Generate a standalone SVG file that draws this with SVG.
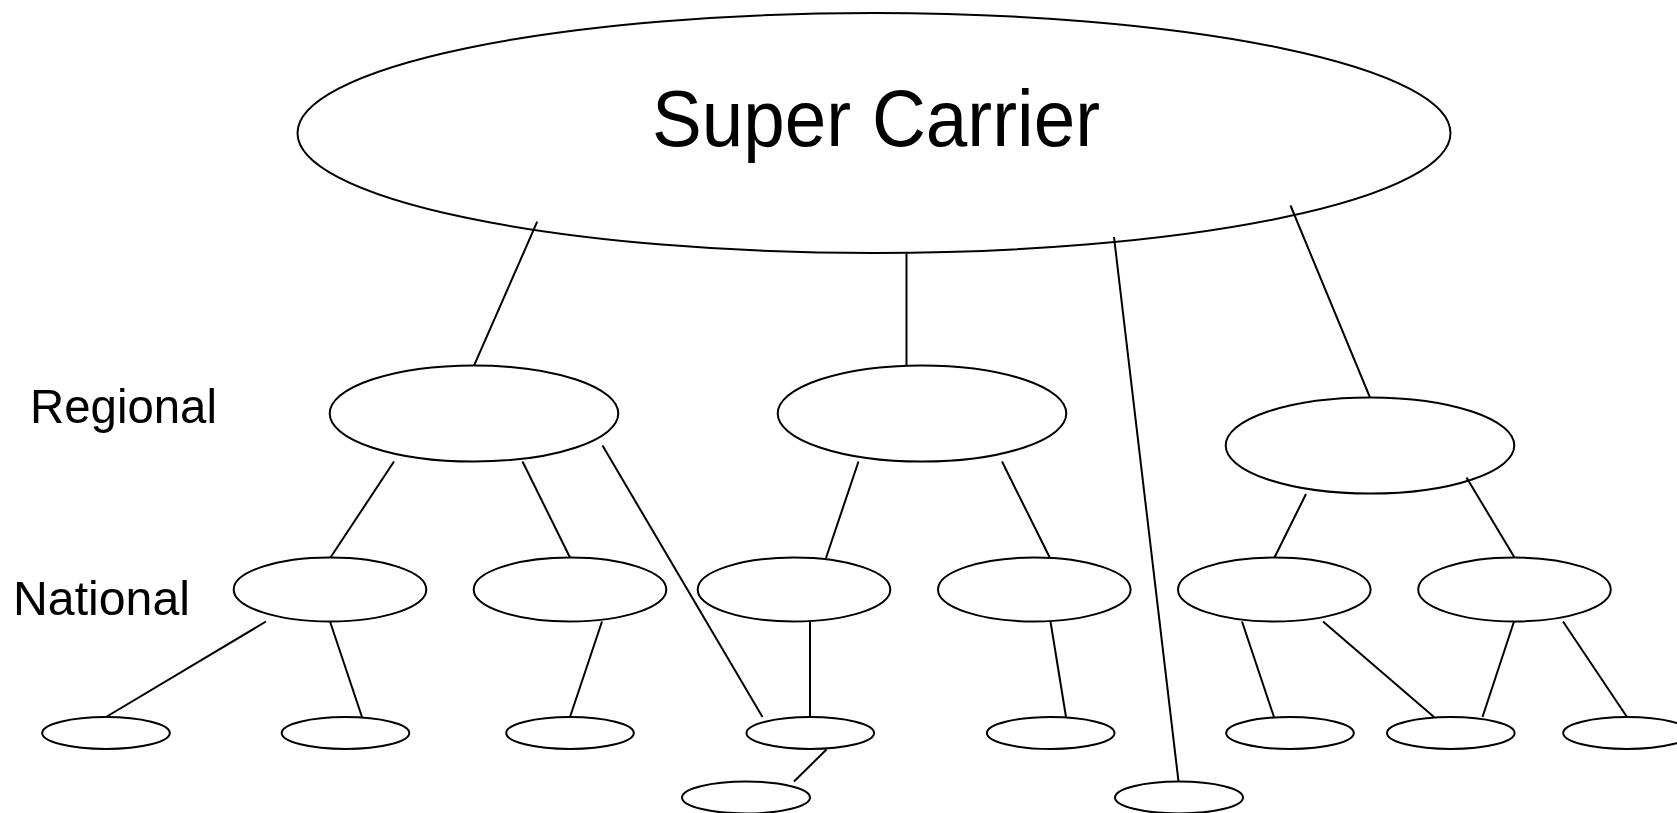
<svg xmlns="http://www.w3.org/2000/svg" width="1677" height="813" viewBox="0 0 1677 813">
<style>
.n{fill:#fff;stroke:#000;stroke-width:2}
.c line{stroke:#000;stroke-width:2}
.t{font-family:"Liberation Sans",Arial,sans-serif;fill:#000}
</style>
<rect width="1677" height="813" fill="#fff"/>
<g id="node-super"><ellipse class="n" cx="874" cy="133" rx="576.5" ry="120"/>
<text class="t" x="876" y="146" font-size="80" text-anchor="middle" textLength="448" lengthAdjust="spacingAndGlyphs">Super Carrier</text></g>
<g id="label-regional"><text class="t" x="30" y="423" font-size="49" textLength="187" lengthAdjust="spacingAndGlyphs">Regional</text></g>
<g id="label-national"><text class="t" x="13" y="615" font-size="49" textLength="177" lengthAdjust="spacingAndGlyphs">National</text></g>
<g id="node-r1"><ellipse class="n" cx="474" cy="413.5" rx="144.3" ry="48"/></g>
<g id="node-r2"><ellipse class="n" cx="922" cy="413.5" rx="144.3" ry="48"/></g>
<g id="node-r3"><ellipse class="n" cx="1370" cy="445.5" rx="144.3" ry="48"/></g>
<g id="node-n1"><ellipse class="n" cx="330" cy="589.5" rx="96.3" ry="32"/></g>
<g id="node-n2"><ellipse class="n" cx="570" cy="589.5" rx="96.3" ry="32"/></g>
<g id="node-n3"><ellipse class="n" cx="794" cy="589.5" rx="96.3" ry="32"/></g>
<g id="node-n4"><ellipse class="n" cx="1034.3" cy="589.5" rx="96.3" ry="32"/></g>
<g id="node-n5"><ellipse class="n" cx="1274.3" cy="589.5" rx="96.3" ry="32"/></g>
<g id="node-n6"><ellipse class="n" cx="1514.5" cy="589.5" rx="96.3" ry="32"/></g>
<g id="node-b1"><ellipse class="n" cx="106" cy="733" rx="63.8" ry="16"/></g>
<g id="node-b2"><ellipse class="n" cx="345.5" cy="733" rx="63.8" ry="16"/></g>
<g id="node-b3"><ellipse class="n" cx="570" cy="733" rx="63.8" ry="16"/></g>
<g id="node-b4"><ellipse class="n" cx="810.3" cy="733" rx="63.8" ry="16"/></g>
<g id="node-b5"><ellipse class="n" cx="1050.7" cy="733" rx="63.8" ry="16"/></g>
<g id="node-b6"><ellipse class="n" cx="1290" cy="733" rx="63.8" ry="16"/></g>
<g id="node-b7"><ellipse class="n" cx="1450.8" cy="733" rx="63.8" ry="16"/></g>
<g id="node-b8"><ellipse class="n" cx="1627" cy="733" rx="63.8" ry="16"/></g>
<g id="node-l1"><ellipse class="n" cx="746" cy="797.5" rx="64" ry="16"/></g>
<g id="node-l2"><ellipse class="n" cx="1179" cy="797.5" rx="64" ry="16"/></g>
<g id="connectors" class="c">
<line x1="537.2" y1="221.7" x2="474" y2="365.7"/>
<line x1="906.5" y1="253.5" x2="906.5" y2="365.5"/>
<line x1="1114" y1="237" x2="1178.5" y2="781.5"/>
<line x1="1290.5" y1="205.5" x2="1370" y2="397.5"/>
<line x1="394" y1="461.5" x2="330.5" y2="557.5"/>
<line x1="522.5" y1="461.5" x2="570" y2="557.5"/>
<line x1="602.5" y1="445.5" x2="762.5" y2="717"/>
<line x1="858.5" y1="461.5" x2="826" y2="558"/>
<line x1="1002" y1="461.5" x2="1050" y2="558"/>
<line x1="1306" y1="494" x2="1274.5" y2="557.5"/>
<line x1="1466.5" y1="477.5" x2="1514.5" y2="557.5"/>
<line x1="266" y1="621.5" x2="106" y2="717"/>
<line x1="330" y1="621.5" x2="362" y2="717"/>
<line x1="602" y1="621.5" x2="570" y2="717"/>
<line x1="810" y1="621.5" x2="810" y2="717"/>
<line x1="1050.5" y1="621.5" x2="1066" y2="717"/>
<line x1="826.5" y1="749.5" x2="794" y2="781.5"/>
<line x1="1242" y1="621.5" x2="1274" y2="717"/>
<line x1="1323" y1="621.5" x2="1434" y2="717"/>
<line x1="1514" y1="621.5" x2="1482.5" y2="717"/>
<line x1="1563" y1="621.5" x2="1627" y2="717"/>
</g>
</svg>
